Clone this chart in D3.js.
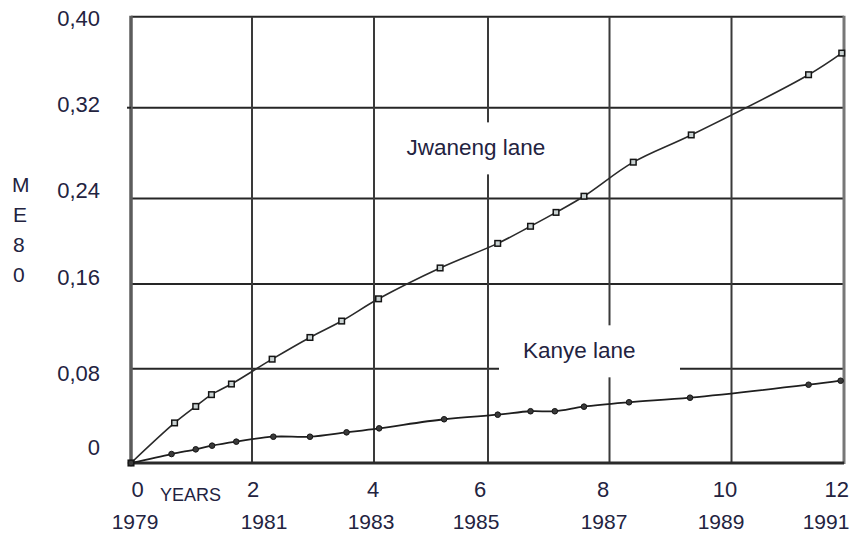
<!DOCTYPE html>
<html>
<head>
<meta charset="utf-8">
<script src="https://cdn.jsdelivr.net/npm/d3@7"></script>
<style>
  body { margin: 0; background: #fff; }
  svg { display: block; }
  text { font-family: "Liberation Sans", Arial, sans-serif; fill: #23233f; }
</style>
</head>
<body>
<svg id="chart" width="856" height="535"></svg>
<script>
// Axis ticks and labels
const yearTicks = [0, 2, 4, 6, 8, 10, 12];
const calendarYears = ["1979", "1981", "1983", "1985", "1987", "1989", "1991"];
const valueTicks = [0, 0.08, 0.16, 0.24, 0.32, 0.40];
const valueLabels = ["0", "0,08", "0,16", "0,24", "0,32", "0,40"];

// Jwaneng lane series (years since 1979, ME80)
const jwanengYears  = [0, 0.72, 1.07, 1.33, 1.66, 2.33, 2.95, 3.47, 4.08, 5.16, 6.16, 6.70, 7.12, 7.58, 8.39, 9.34, 11.37, 11.96];
const jwanengValues = [0, 0.034, 0.048, 0.058, 0.067, 0.089, 0.1095, 0.125, 0.146, 0.175, 0.198, 0.214, 0.227, 0.242, 0.272, 0.296, 0.349, 0.368];

// Kanye lane series
const kanyeYears  = [0, 0.67, 1.07, 1.34, 1.74, 2.35, 2.95, 3.55, 4.09, 5.23, 6.16, 6.70, 7.10, 7.58, 8.32, 9.32, 11.37, 11.94];
const kanyeValues = [0, 0.0076, 0.0116, 0.0147, 0.0181, 0.0223, 0.0223, 0.0260, 0.0294, 0.0371, 0.0410, 0.0439, 0.0439, 0.0478, 0.0515, 0.0554, 0.0664, 0.0698];

const svg = d3.select("#chart");

// The printed grid is not evenly spaced, so the scales are piecewise linear
const x = d3.scaleLinear().domain(yearTicks).range([131, 252, 374, 488, 609.5, 731.5, 844]);
const y = d3.scaleLinear().domain(valueTicks).range([463, 368.7, 284, 198.5, 107.7, 16.7]);

const [x0, x1] = [x(0), x(12)];
const [yTop, yBot] = [y(0.40), y(0)];

// Grid
const grid = svg.append("g");
grid.selectAll("line.h").data(valueTicks.slice(1)).join("line")
  .attr("class", "h")
  .attr("x1", x0).attr("x2", x1)
  .attr("y1", d => y(d)).attr("y2", d => y(d))
  .attr("stroke", "#262626").attr("stroke-width", 2);
grid.selectAll("line.v").data(yearTicks.slice(1, -1)).join("line")
  .attr("class", "v")
  .attr("x1", d => x(d)).attr("x2", d => x(d))
  .attr("y1", yTop).attr("y2", yBot)
  .attr("stroke", "#3a3a3a").attr("stroke-width", 2);
// frame
grid.append("line").attr("x1", x0).attr("x2", x0).attr("y1", yTop - 1).attr("y2", yBot + 1)
  .attr("stroke", "#5c5c5c").attr("stroke-width", 3.5);
grid.append("line").attr("x1", x1).attr("x2", x1).attr("y1", yTop - 1).attr("y2", yBot + 1)
  .attr("stroke", "#777").attr("stroke-width", 3);
grid.append("line").attr("x1", x0).attr("x2", x1).attr("y1", yBot).attr("y2", yBot)
  .attr("stroke", "#2a2a2a").attr("stroke-width", 3);
grid.append("line").attr("x1", x0 - 4).attr("x2", x0).attr("y1", y(0.32)).attr("y2", y(0.32))
  .attr("stroke", "#262626").attr("stroke-width", 2);

// Series labels sit on white boxes that interrupt the grid
const seriesLabels = [
  { text: "Jwaneng lane", year: 4.57, value: 0.278 },
  { text: "Kanye lane", year: 6.576, value: 0.0898 }
];
const labelLayer = svg.append("g");
seriesLabels.forEach(l => {
  const box = labelLayer.append("rect").attr("fill", "#fff");
  const t = labelLayer.append("text")
    .attr("x", x(l.year)).attr("y", y(l.value))
    .attr("font-size", 22.5)
    .text(l.text);
  const bb = t.node().getBBox();
  box.attr("x", bb.x - 24).attr("width", 181)
     .attr("y", bb.y + bb.height / 2 - 25.5).attr("height", 52);
});

// Y tick labels
const yLabelShift = [-16, 5, -7, -8, -3, 2];
svg.append("g").selectAll("text").data(valueTicks).join("text")
  .attr("x", 100)
  .attr("y", (d, i) => y(d) + yLabelShift[i])
  .attr("dy", "0.35em")
  .attr("text-anchor", "end")
  .attr("font-size", 22)
  .text((d, i) => valueLabels[i]);

// X tick labels: elapsed years and calendar years
const yearShift = [6.5, 1, -1, -8, -6.5, -6.5, -7.3];
const calShift = [4, 12, -3, -12, -5.5, -10.5, -18];
svg.append("g").selectAll("text").data(yearTicks).join("text")
  .attr("x", (d, i) => x(d) + yearShift[i])
  .attr("y", 497)
  .attr("text-anchor", "middle")
  .attr("font-size", 22)
  .text(d => d);
svg.append("g").selectAll("text").data(yearTicks).join("text")
  .attr("x", (d, i) => x(d) + calShift[i])
  .attr("y", 529)
  .attr("text-anchor", "middle")
  .attr("font-size", 21)
  .text((d, i) => calendarYears[i]);
svg.append("text").attr("x", 160).attr("y", 501)
  .attr("font-size", 18).text("YEARS");

// Y axis title, stacked letters
const yTitle = svg.append("text").attr("x", 13).attr("y", 192).attr("font-size", 21);
["M", "E", "8", "0"].forEach((c, i) => {
  yTitle.append("tspan").attr("x", c === "M" ? 12 : 13).attr("dy", i === 0 ? 0 : 30).text(c);
});

// Series lines and markers
const line = d3.line().x(d => x(d[0])).y(d => y(d[1])).curve(d3.curveCatmullRom.alpha(0.5));
const jw = d3.zip(jwanengYears, jwanengValues);
const ka = d3.zip(kanyeYears, kanyeValues);

svg.append("path").datum(jw).attr("d", line)
  .attr("fill", "none").attr("stroke", "#2a2a2a").attr("stroke-width", 1.6);
svg.append("path").datum(ka).attr("d", line)
  .attr("fill", "none").attr("stroke", "#1e1e1e").attr("stroke-width", 1.8);

svg.append("g").selectAll("rect").data(jw).join("rect")
  .attr("x", d => x(d[0]) - 2.8).attr("y", d => y(d[1]) - 2.8)
  .attr("width", 5.6).attr("height", 5.6)
  .attr("fill", "#c9d2d2").attr("stroke", "#151515").attr("stroke-width", 1.5);
svg.append("g").selectAll("circle").data(ka).join("circle")
  .attr("cx", d => x(d[0])).attr("cy", d => y(d[1]))
  .attr("r", 2.8)
  .attr("fill", "#3a3a3a").attr("stroke", "#151515").attr("stroke-width", 1);
</script>
</body>
</html>
